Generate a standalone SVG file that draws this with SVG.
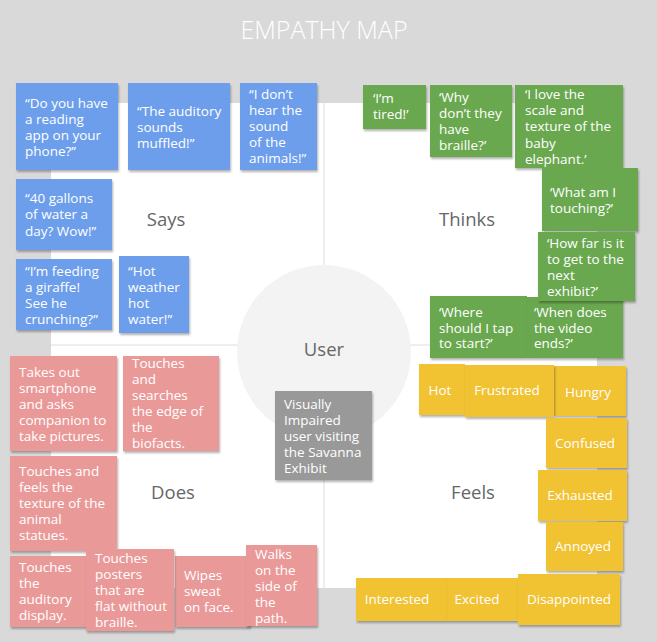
<svg xmlns="http://www.w3.org/2000/svg" width="657" height="642" viewBox="0 0 657 642">
<defs>
<filter id="sh" x="-10%" y="-10%" width="130%" height="130%">
<feDropShadow dx="1" dy="2" stdDeviation="1.2" flood-color="#000" flood-opacity="0.3"/>
</filter>
<style>
.t{font-family:"Open Sans","Liberation Sans",sans-serif;font-size:13.5px;fill:#fff}
.c{text-anchor:middle}
.lbl{font-family:"Open Sans","Liberation Sans",sans-serif;font-size:18.5px;fill:#666;text-anchor:middle}
.b{fill:#6d9eeb;filter:url(#sh)}
.g{fill:#6aa84f;filter:url(#sh)}
.r{fill:#ea9999;filter:url(#sh)}
.y{fill:#f1c232;filter:url(#sh)}
.k{fill:#999999;filter:url(#sh)}
</style>
</defs>
<rect width="657" height="642" fill="#d9d9d9"/>
<text x="324" y="39" text-anchor="middle" font-family="'Open Sans','Liberation Sans',sans-serif" font-weight="300" font-size="25" fill="#fff">EMPATHY MAP</text>
<g id="board">
<rect x="51" y="103" width="546" height="485" fill="#fff"/>
</g>
<g id="connectors">
<line x1="324" y1="103" x2="324" y2="588" stroke="#eeeeee" stroke-width="2"/>
<line x1="51" y1="345" x2="597" y2="345" stroke="#eeeeee" stroke-width="2"/>
</g>
<g id="user">
<circle cx="324" cy="352" r="87" fill="#f3f3f3"/>
<text class="lbl" x="324" y="356">User</text>
</g>
<g id="labels">
<text class="lbl" x="166" y="226">Says</text>
<text class="lbl" x="467" y="226">Thinks</text>
<text class="lbl" x="173" y="499">Does</text>
<text class="lbl" x="473" y="499">Feels</text>
</g>
<g id="says">
<g id="s1"><rect class="b" x="16" y="83" width="102" height="87"/><text class="t"><tspan x="25" y="108">“Do you have</tspan><tspan x="25" y="124">a reading</tspan><tspan x="25" y="140">app on your</tspan><tspan x="25" y="156">phone?”</tspan></text></g>
<g id="s2"><rect class="b" x="128" y="83" width="102" height="87"/><text class="t"><tspan x="137" y="116">“The auditory</tspan><tspan x="137" y="132">sounds</tspan><tspan x="137" y="148">muffled!”</tspan></text></g>
<g id="s3"><rect class="b" x="240" y="83" width="77" height="87"/><text class="t"><tspan x="249" y="99">“I don’t</tspan><tspan x="249" y="115">hear the</tspan><tspan x="249" y="131">sound</tspan><tspan x="249" y="147">of the</tspan><tspan x="249" y="163">animals!”</tspan></text></g>
<g id="s4"><rect class="b" x="16" y="179" width="96" height="71"/><text class="t"><tspan x="25" y="203">“40 gallons</tspan><tspan x="25" y="219">of water a</tspan><tspan x="25" y="236">day? Wow!”</tspan></text></g>
<g id="s5"><rect class="b" x="16" y="259" width="96" height="71"/><text class="t"><tspan x="25" y="276">“I’m feeding</tspan><tspan x="25" y="292">a giraffe!</tspan><tspan x="25" y="308">See he</tspan><tspan x="25" y="324">crunching?”</tspan></text></g>
<g id="s6"><rect class="b" x="119" y="256" width="70" height="77"/><text class="t"><tspan x="128" y="276">“Hot</tspan><tspan x="128" y="292">weather</tspan><tspan x="128" y="308">hot</tspan><tspan x="128" y="324">water!”</tspan></text></g>
</g>
<g id="thinks">
<g id="t1"><rect class="g" x="363" y="85" width="63" height="44"/><text class="t"><tspan x="373" y="103">‘I’m</tspan><tspan x="373" y="119">tired!’</tspan></text></g>
<g id="t2"><rect class="g" x="430" y="85" width="82" height="72"/><text class="t"><tspan x="439" y="102">‘Why</tspan><tspan x="439" y="118">don’t they</tspan><tspan x="439" y="134">have</tspan><tspan x="439" y="150">braille?’</tspan></text></g>
<g id="t3"><rect class="g" x="515" y="85" width="108" height="83"/><text class="t"><tspan x="525" y="99">‘I love the</tspan><tspan x="525" y="115">scale and</tspan><tspan x="525" y="131">texture of the</tspan><tspan x="525" y="148">baby</tspan><tspan x="525" y="164">elephant.’</tspan></text></g>
<g id="t4"><rect class="g" x="542" y="168" width="96" height="63"/><text class="t"><tspan x="550" y="197">‘What am I</tspan><tspan x="550" y="213">touching?’</tspan></text></g>
<g id="t6"><rect class="g" x="430" y="296" width="97" height="62"/><text class="t"><tspan x="439" y="317">‘Where</tspan><tspan x="439" y="333">should I tap</tspan><tspan x="439" y="348">to start?’</tspan></text></g>
<g id="t7"><rect class="g" x="527" y="297" width="96" height="61"/><text class="t"><tspan x="534" y="317">‘When does</tspan><tspan x="534" y="333">the video</tspan><tspan x="534" y="348">ends?’</tspan></text></g>
<g id="t5"><rect class="g" x="538" y="232" width="97" height="69"/><text class="t"><tspan x="547" y="248">‘How far is it</tspan><tspan x="547" y="264">to get to the</tspan><tspan x="547" y="280">next</tspan><tspan x="547" y="296">exhibit?’</tspan></text></g>
</g>
<g id="does">
<g id="d1"><rect class="r" x="10" y="356" width="107" height="95"/><text class="t"><tspan x="19" y="377">Takes out</tspan><tspan x="19" y="393">smartphone</tspan><tspan x="19" y="409">and asks</tspan><tspan x="19" y="425">companion to</tspan><tspan x="19" y="441">take pictures.</tspan></text></g>
<g id="d2"><rect class="r" x="123" y="356" width="96" height="95"/><text class="t"><tspan x="132" y="368">Touches</tspan><tspan x="132" y="384">and</tspan><tspan x="132" y="400">searches</tspan><tspan x="132" y="416">the edge of</tspan><tspan x="132" y="432">the</tspan><tspan x="132" y="448">biofacts.</tspan></text></g>
<g id="d3"><rect class="r" x="10" y="456" width="107" height="95"/><text class="t"><tspan x="19" y="476">Touches and</tspan><tspan x="19" y="492">feels the</tspan><tspan x="19" y="508">texture of the</tspan><tspan x="19" y="524">animal</tspan><tspan x="19" y="540">statues.</tspan></text></g>
<g id="d4"><rect class="r" x="10" y="556" width="80" height="71"/><text class="t"><tspan x="19" y="572">Touches</tspan><tspan x="19" y="588">the</tspan><tspan x="19" y="604">auditory</tspan><tspan x="19" y="620">display.</tspan></text></g>
<g id="d5"><rect class="r" x="175" y="556" width="75" height="71"/><text class="t"><tspan x="184" y="580">Wipes</tspan><tspan x="184" y="596">sweat</tspan><tspan x="184" y="612">on face.</tspan></text></g>
<g id="d6"><rect class="r" x="86" y="549" width="88" height="82"/><text class="t"><tspan x="95" y="563">Touches</tspan><tspan x="95" y="579">posters</tspan><tspan x="95" y="595">that are</tspan><tspan x="95" y="611">flat without</tspan><tspan x="95" y="627">braille.</tspan></text></g>
<g id="d7"><rect class="r" x="246" y="545" width="71" height="81"/><text class="t"><tspan x="255" y="559">Walks</tspan><tspan x="255" y="575">on the</tspan><tspan x="255" y="591">side of</tspan><tspan x="255" y="607">the</tspan><tspan x="255" y="623">path.</tspan></text></g>
</g>
<g id="persona"><rect class="k" x="275" y="391" width="97" height="89"/><text class="t"><tspan x="284" y="409">Visually</tspan><tspan x="284" y="425">Impaired</tspan><tspan x="284" y="441">user visiting</tspan><tspan x="284" y="457">the Savanna</tspan><tspan x="284" y="473">Exhibit</tspan></text></g>
<g id="feels">
<g id="f1"><rect class="y" x="419" y="364" width="46" height="51"/><text class="t c" x="440" y="395">Hot</text></g>
<g id="f3"><rect class="y" x="554" y="366" width="72" height="50"/><text class="t c" x="588" y="397">Hungry</text></g>
<g id="f2"><rect class="y" x="465" y="365" width="89" height="52"/><text class="t c" x="507" y="395">Frustrated</text></g>
<g id="f4"><rect class="y" x="546" y="418" width="81" height="50"/><text class="t c" x="585" y="448">Confused</text></g>
<g id="f5"><rect class="y" x="538" y="470" width="89" height="51"/><text class="t c" x="580" y="500">Exhausted</text></g>
<g id="f6"><rect class="y" x="546" y="522" width="77" height="49"/><text class="t c" x="583" y="551">Annoyed</text></g>
<g id="f7"><rect class="y" x="356" y="578" width="91" height="43"/><text class="t c" x="397" y="604">Interested</text></g>
<g id="f8"><rect class="y" x="447" y="578" width="71" height="43"/><text class="t c" x="477" y="604">Excited</text></g>
<g id="f9"><rect class="y" x="518" y="574" width="102" height="51"/><text class="t c" x="569" y="604">Disappointed</text></g>
</g>
</svg>
